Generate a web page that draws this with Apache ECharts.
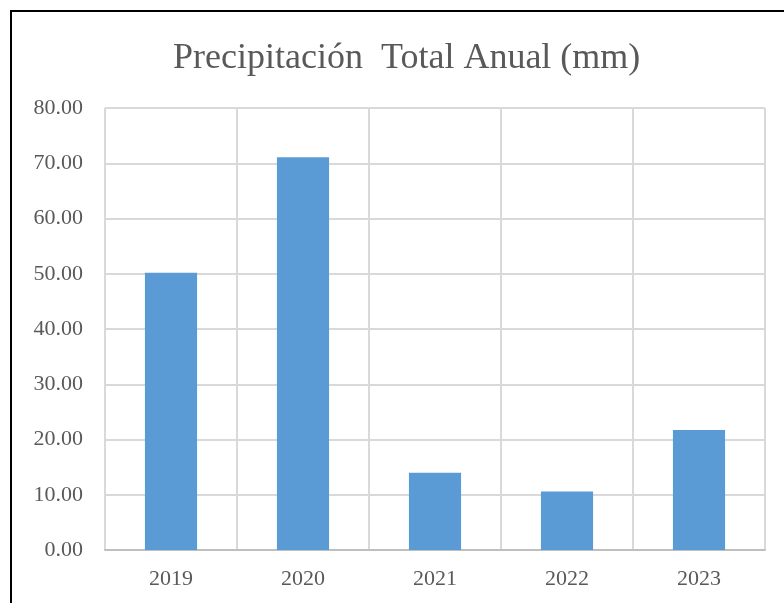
<!DOCTYPE html>
<html>
<head>
<meta charset="utf-8">
<script src="https://cdn.jsdelivr.net/npm/echarts@6/dist/echarts.min.js"></script>
<style>
  html, body { margin: 0; padding: 0; background: #fff; }
  #frame { position: absolute; left: 10px; top: 10px; width: 800px; height: 620px;
           border-left: 2px solid #000; border-top: 2px solid #000; }
  #chart { position: absolute; left: 0; top: 0; width: 784px; height: 603px; }
</style>
</head>
<body>
<div id="frame"></div>
<div id="chart"></div>
<script>
  // datos
  const years = ['2019', '2020', '2021', '2022', '2023']
  const precip = [50.2, 71.1, 14.0, 10.6, 21.7]
  const yMin = 0
  const yMax = 80
  const yStep = 10

  const serif = '"Liberation Serif", "Times New Roman", serif'
  const txt = '#595959'

  const myChart = echarts.init(document.getElementById('chart'))
  const option = {
    animation: false,
    title: {
      text: 'Precipitación  Total Anual (mm)',
      left: 168,
      top: 36,
      textStyle: { fontFamily: serif, fontSize: 36, fontWeight: 'normal', color: txt }
    },
    grid: { left: 105, right: 19, top: 108, bottom: 53 },
    xAxis: {
      type: 'category',
      data: years,
      axisTick: { show: false },
      axisLine: { lineStyle: { color: '#bfbfbf', width: 2 } },
      axisLabel: { fontFamily: serif, fontSize: 22, color: txt, margin: 18 },
      splitLine: { show: true, lineStyle: { color: '#d9d9d9', width: 2 } }
    },
    yAxis: {
      type: 'value',
      min: yMin,
      max: yMax,
      interval: yStep,
      axisLine: { show: false },
      axisTick: { show: false },
      axisLabel: {
        fontFamily: serif, fontSize: 22, color: txt, margin: 22,
        formatter: v => v.toFixed(2)
      },
      splitLine: { lineStyle: { color: '#d9d9d9', width: 2 } }
    },
    series: [
      {
        type: 'bar',
        data: precip,
        barWidth: '39.5%',
        itemStyle: { color: '#5b9bd5' }
      }
    ]
  }
  myChart.setOption(option)
</script>
</body>
</html>
